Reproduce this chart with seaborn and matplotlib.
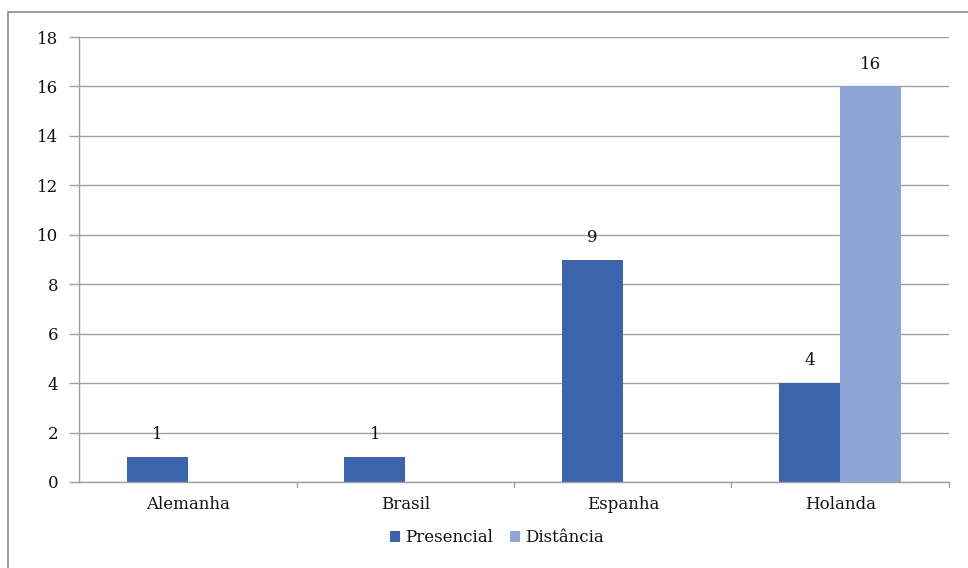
import matplotlib
matplotlib.use("Agg")
import matplotlib.pyplot as plt
import seaborn as sns
import pandas as pd
import numpy as np
from matplotlib.patches import Rectangle

categories = ["Alemanha", "Brasil", "Espanha", "Holanda"]
presencial = [1, 1, 9, 4]
distancia = [0, 0, 0, 16]
series_names = ["Presencial", "Distância"]
colors = ["#3B64AD", "#8FA5D5"]
yticks = [0, 2, 4, 6, 8, 10, 12, 14, 16, 18]

df = pd.DataFrame({
    "País": categories * 2,
    "Valor": presencial + distancia,
    "Modalidade": [series_names[0]] * len(categories) + [series_names[1]] * len(categories),
})

sns.set_theme(style="white")
plt.rcParams["font.family"] = ["DejaVu Serif"]

fig = plt.figure(figsize=(9.68, 5.68), dpi=100)
ax = fig.add_axes([79 / 968, 1 - 482 / 568, (949 - 79) / 968, (482 - 37) / 568])

sns.barplot(data=df, x="País", y="Valor", hue="Modalidade", palette=colors,
            width=0.56, gap=0, ax=ax, legend=True, saturation=1, edgecolor="none")

for cont in ax.containers:
    labels = [("%d" % v) if v > 0 else "" for v in cont.datavalues]
    ax.bar_label(cont, labels=labels, padding=10, fontsize=12, color="#111111")

ax.set_ylim(0, 18)
ax.set_xlim(-0.5, len(categories) - 0.5)
ax.set_yticks(yticks)
ax.set_yticklabels([str(t) for t in yticks], fontsize=12, color="#111111")
ax.set_xlabel("")
ax.set_ylabel("")
ax.tick_params(axis="x", length=0, labelsize=12, labelcolor="#111111", pad=10)
ax.tick_params(axis="y", left=True, length=7, width=1, color="#A0A0A0", labelsize=12, pad=8)

ax.yaxis.grid(True, color="#A0A0A0", linewidth=1)
ax.set_axisbelow(True)
for s in ["top", "right"]:
    ax.spines[s].set_visible(False)
for s in ["left", "bottom"]:
    ax.spines[s].set_color("#A0A0A0")
    ax.spines[s].set_linewidth(1)

# category separator ticks on x axis
for b in np.arange(0.5, len(categories) + 0.5, 1.0):
    ax.plot([b, b], [0, -0.22], color="#A0A0A0", linewidth=1, clip_on=False)

leg = ax.legend(loc="center", bbox_to_anchor=(497 / 968, 1 - 538 / 568),
                bbox_transform=fig.transFigure, ncol=2, frameon=False,
                fontsize=12, handlelength=0.6, handleheight=0.6,
                handletextpad=0.3, columnspacing=1.0, title=None)
for t in leg.get_texts():
    t.set_color("#111111")

fig.patches.append(Rectangle((8 / 968, -0.01), 1.0, 1 - 12 / 568 + 0.01,
                             transform=fig.transFigure, fill=False,
                             edgecolor="#8C8C8C", linewidth=1.2, zorder=0))

fig.savefig("out.png", dpi=100, facecolor="white")
